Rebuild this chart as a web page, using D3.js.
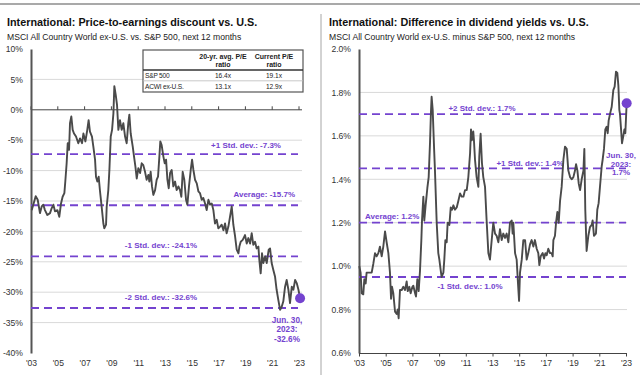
<!DOCTYPE html>
<html>
<head>
<meta charset="utf-8">
<script src="https://cdn.jsdelivr.net/npm/d3@7"></script>
<style>
  body { margin: 0; background: #fff; }
  svg { font-family: "Liberation Sans", Arial, sans-serif; display: block; }
  .tick text { fill: #333; }
</style>
</head>
<body>
<svg id="chart" width="640" height="375"></svg>
<script>
// left panel: P/E discount (%), [decimal year, value]
var peSeries = [
  [2003.05,-16.5],[2003.17,-15.6],[2003.35,-14.2],[2003.50,-14.8],[2003.67,-17.0],[2003.80,-15.9],[2003.92,-15.6],
  [2004.04,-16.5],[2004.22,-17.3],[2004.42,-17.0],[2004.54,-16.2],[2004.67,-15.6],[2004.79,-16.7],[2004.97,-16.5],
  [2005.11,-17.6],[2005.24,-15.4],[2005.36,-14.3],[2005.49,-13.7],[2005.56,-11.8],[2005.66,-8.8],[2005.74,-5.5],
  [2005.84,-6.6],[2005.91,-2.2],[2006.01,-1.1],[2006.11,-3.3],[2006.21,-3.9],[2006.36,-4.4],[2006.53,-5.5],
  [2006.66,-4.7],[2006.81,-5.5],[2006.91,-3.9],[2007.06,-5.2],[2007.20,-3.3],[2007.30,-1.7],[2007.40,-3.6],
  [2007.55,-4.4],[2007.65,-6.0],[2007.78,-8.2],[2007.85,-11.0],[2007.95,-11.8],[2008.05,-11.0],[2008.15,-13.4],
  [2008.27,-15.9],[2008.40,-18.7],[2008.47,-19.5],[2008.60,-18.9],[2008.65,-15.9],[2008.77,-13.2],[2008.85,-9.9],
  [2008.95,-4.4],[2009.05,-3.3],[2009.15,-0.6],[2009.22,3.9],[2009.32,2.5],[2009.42,0.8],[2009.52,-3.3],
  [2009.64,-1.7],[2009.77,-3.3],[2009.89,-2.2],[2010.02,-4.4],[2010.14,-5.5],[2010.26,-2.2],[2010.34,-0.8],
  [2010.44,-3.9],[2010.59,-6.0],[2010.69,-7.7],[2010.79,-9.3],[2010.89,-11.3],[2011.01,-9.6],[2011.14,-10.4],
  [2011.26,-8.8],[2011.38,-9.1],[2011.51,-10.2],[2011.63,-11.5],[2011.76,-10.7],[2011.83,-11.8],[2011.93,-10.2],
  [2012.03,-12.6],[2012.13,-14.0],[2012.26,-13.2],[2012.38,-11.5],[2012.48,-11.0],[2012.58,-7.7],[2012.65,-5.2],
  [2012.75,-5.8],[2012.88,-7.7],[2012.98,-8.8],[2013.08,-8.2],[2013.18,-11.5],[2013.28,-12.9],[2013.38,-10.4],
  [2013.50,-9.9],[2013.62,-12.6],[2013.75,-11.8],[2013.87,-13.2],[2014.00,-12.6],[2014.12,-13.2],[2014.22,-14.3],
  [2014.32,-10.2],[2014.44,-11.5],[2014.57,-14.8],[2014.67,-15.6],[2014.79,-12.6],[2014.92,-9.9],[2015.02,-8.2],
  [2015.12,-9.9],[2015.24,-11.5],[2015.37,-12.1],[2015.49,-13.4],[2015.61,-13.7],[2015.74,-14.8],[2015.86,-14.5],
  [2015.99,-15.4],[2016.11,-16.5],[2016.24,-14.8],[2016.36,-15.6],[2016.49,-15.4],[2016.61,-16.5],[2016.73,-18.7],
  [2016.86,-18.1],[2016.98,-19.5],[2017.11,-19.2],[2017.23,-18.9],[2017.36,-19.8],[2017.48,-18.7],[2017.60,-20.3],
  [2017.73,-19.2],[2017.85,-17.6],[2017.98,-15.9],[2018.10,-18.9],[2018.23,-20.8],[2018.35,-23.0],[2018.48,-23.6],
  [2018.55,-22.5],[2018.65,-21.7],[2018.80,-21.4],[2018.97,-20.6],[2019.10,-22.0],[2019.22,-21.1],[2019.35,-22.0],
  [2019.47,-20.3],[2019.59,-22.2],[2019.72,-21.7],[2019.84,-22.8],[2019.97,-22.5],[2020.04,-24.7],[2020.14,-26.9],
  [2020.24,-23.6],[2020.34,-25.2],[2020.47,-24.1],[2020.59,-25.2],[2020.74,-23.0],[2020.84,-22.8],[2020.96,-25.2],
  [2021.08,-26.3],[2021.21,-27.4],[2021.33,-29.6],[2021.46,-31.3],[2021.59,-32.9],[2021.71,-32.4],[2021.83,-31.5],
  [2021.96,-29.1],[2022.08,-28.0],[2022.21,-29.6],[2022.33,-31.8],[2022.46,-29.1],[2022.58,-29.6],[2022.71,-28.0],
  [2022.83,-28.5],[2022.96,-29.6],[2023.08,-31.0]
];

// right panel: dividend yield difference (%), [decimal year, value]
var dySeries = [
  [2003.02,1.00],[2003.12,0.97],[2003.20,0.875],[2003.32,0.87],[2003.40,0.94],[2003.50,0.92],[2003.57,0.97],
  [2003.70,0.97],[2003.82,0.97],[2003.95,0.97],[2004.07,1.01],[2004.20,1.06],[2004.32,1.045],[2004.45,1.06],
  [2004.57,1.09],[2004.70,1.045],[2004.82,1.09],[2004.95,1.16],[2005.07,1.11],[2005.20,1.06],[2005.32,0.97],
  [2005.40,0.85],[2005.47,0.905],[2005.57,0.875],[2005.70,0.79],[2005.82,0.78],[2005.90,0.80],[2005.97,0.76],
  [2006.07,0.89],[2006.20,0.89],[2006.32,0.905],[2006.45,0.89],[2006.57,0.93],[2006.65,0.885],[2006.77,0.905],
  [2006.87,0.875],[2007.00,0.905],[2007.07,0.91],[2007.20,0.875],[2007.27,0.86],[2007.37,0.94],[2007.47,0.885],
  [2007.57,0.98],[2007.67,1.12],[2007.72,1.21],[2007.82,1.32],[2007.89,1.21],[2007.99,1.28],[2008.12,1.36],
  [2008.22,1.41],[2008.32,1.57],[2008.39,1.71],[2008.44,1.78],[2008.52,1.72],[2008.62,1.55],[2008.69,1.44],
  [2008.82,1.20],[2008.94,1.06],[2009.02,1.03],[2009.12,0.98],[2009.19,0.95],[2009.32,0.97],[2009.39,1.03],
  [2009.47,1.12],[2009.57,1.11],[2009.64,1.20],[2009.77,1.19],[2009.87,1.27],[2009.97,1.26],[2010.07,1.28],
  [2010.19,1.26],[2010.32,1.27],[2010.44,1.30],[2010.57,1.335],[2010.69,1.32],[2010.82,1.32],[2010.94,1.35],
  [2011.07,1.35],[2011.19,1.41],[2011.32,1.52],[2011.39,1.63],[2011.46,1.58],[2011.56,1.62],[2011.61,1.58],
  [2011.69,1.49],[2011.81,1.41],[2011.94,1.365],[2012.01,1.505],[2012.11,1.61],[2012.21,1.475],[2012.31,1.41],
  [2012.44,1.365],[2012.56,1.21],[2012.69,1.06],[2012.81,1.03],[2012.94,1.12],[2013.06,1.20],[2013.19,1.15],
  [2013.31,1.14],[2013.44,1.11],[2013.56,1.17],[2013.69,1.12],[2013.81,1.15],[2013.94,1.13],[2014.06,1.15],
  [2014.19,1.11],[2014.31,1.20],[2014.44,1.21],[2014.51,1.15],[2014.56,1.20],[2014.69,1.06],[2014.81,1.03],
  [2014.91,0.92],[2014.99,0.84],[2015.06,0.97],[2015.19,1.03],[2015.31,1.12],[2015.44,1.12],[2015.56,1.03],
  [2015.68,1.06],[2015.81,1.10],[2015.93,1.12],[2016.06,1.09],[2016.18,1.12],[2016.31,1.08],[2016.43,1.06],
  [2016.51,1.005],[2016.61,1.045],[2016.76,1.06],[2016.86,1.035],[2016.96,1.06],[2017.06,1.05],[2017.18,1.08],
  [2017.31,1.06],[2017.43,1.06],[2017.51,1.045],[2017.56,1.12],[2017.68,1.14],[2017.76,1.20],[2017.86,1.25],
  [2017.96,1.20],[2018.06,1.30],[2018.18,1.365],[2018.31,1.49],[2018.43,1.55],[2018.56,1.54],[2018.68,1.44],
  [2018.81,1.41],[2018.93,1.40],[2019.06,1.41],[2019.18,1.44],[2019.26,1.47],[2019.36,1.44],[2019.46,1.38],
  [2019.56,1.35],[2019.68,1.40],[2019.81,1.44],[2019.88,1.54],[2019.95,1.26],[2020.05,1.07],[2020.18,1.14],
  [2020.30,1.18],[2020.43,1.19],[2020.50,1.21],[2020.60,1.14],[2020.75,1.15],[2020.85,1.26],[2020.95,1.29],
  [2021.05,1.365],[2021.18,1.46],[2021.25,1.49],[2021.35,1.54],[2021.45,1.63],[2021.55,1.642],[2021.63,1.612],
  [2021.70,1.67],[2021.80,1.70],[2021.93,1.734],[2022.05,1.811],[2022.15,1.827],[2022.25,1.896],[2022.35,1.89],
  [2022.43,1.83],[2022.50,1.72],[2022.55,1.70],[2022.63,1.63],[2022.70,1.566],[2022.80,1.60],[2022.88,1.63],
  [2022.95,1.612],[2023.05,1.75]
];

var yearTicks = [2003, 2005, 2007, 2009, 2011, 2013, 2015, 2017, 2019, 2021, 2023];
var peTicks = [10, 5, 0, -5, -10, -15, -20, -25, -30, -35, -40];
var dyTicks = [0.6, 0.8, 1.0, 1.2, 1.4, 1.6, 1.8, 2.0];

var peBandValues = [-7.3, -15.7, -24.1, -32.6];
var peBandLabels = ["+1 Std. dev.: -7.3%", "Average: -15.7%", "-1 Std. dev.: -24.1%", "-2 Std. dev.: -32.6%"];
var dyBandValues = [1.7, 1.45, 1.2, 0.95];
var dyBandLabels = ["+2 Std. dev.: 1.7%", "+1 Std. dev.: 1.4%", "Average: 1.2%", "-1 Std. dev.: 1.0%"];

var peNote = ["Jun. 30,", "2023:", "-32.6%"];
var dyNote = ["Jun. 30,", "2023:", "1.7%"];

var tableHeader = [["20-yr. avg. P/E", "ratio"], ["Current P/E", "ratio"]];
var tableRowNames = ["S&P 500", "ACWI ex-U.S."];
var tableAvgPE = ["16.4x", "13.1x"];
var tableCurPE = ["19.1x", "12.9x"];

var titles = ["International: Price-to-earnings discount vs. U.S.", "International: Difference in dividend yields vs. U.S."];
var subtitles = ["MSCI All Country World ex-U.S. vs. S&P 500, next 12 months", "MSCI All Country World ex-U.S. minus S&P 500, next 12 months"];

var purple = "#7443cf", lineGray = "#4a4a4a", gridGray = "#d9d9d9";

var svg = d3.select("#chart");

// frame
svg.append("line").attr("x1", 0).attr("x2", 640).attr("y1", 4).attr("y2", 4)
    .style("stroke", "#8c8c8c").style("stroke-width", 1.5);
svg.append("line").attr("x1", 321).attr("x2", 321).attr("y1", 14).attr("y2", 375)
    .style("stroke", "#a6a6a6").style("stroke-width", 1);

function drawTitle(x, i) {
    svg.append("text").attr("x", x).attr("y", 26)
        .style("font-size", "10.8px").style("font-weight", "bold").style("fill", "#111")
        .text(titles[i]);
    svg.append("text").attr("x", x).attr("y", 40)
        .style("font-size", "8.6px").style("fill", "#222")
        .text(subtitles[i]);
}
drawTitle(7, 0);
drawTitle(329, 1);

function yearLabel(d) { return "'" + String(d).slice(2); }

// ---------- left panel ----------
var xL = d3.scaleLinear().domain([2003, 2023]).range([31, 299]);
var yL = d3.scaleLinear().domain([-40, 10]).range([353, 49]);

var left = svg.append("g");

left.selectAll(".grid").data(peTicks.filter(function(d) { return d !== 0 && d !== -40 && d !== 10; }))
    .enter().append("line")
    .attr("x1", xL(2003)).attr("x2", 302)
    .attr("y1", function(d) { return yL(d); }).attr("y2", function(d) { return yL(d); })
    .style("stroke", gridGray).style("stroke-width", 1);

// zero line with upward ticks
left.append("line").attr("x1", xL(2003)).attr("x2", 302).attr("y1", yL(0)).attr("y2", yL(0))
    .style("stroke", "#444").style("stroke-width", 1);
left.selectAll(".zt").data(yearTicks).enter().append("line")
    .attr("x1", function(d) { return xL(d); }).attr("x2", function(d) { return xL(d); })
    .attr("y1", yL(0)).attr("y2", yL(0) - 3.5)
    .style("stroke", "#444").style("stroke-width", 1);

var yAxisL = left.append("g")
    .attr("transform", "translate(" + xL(2003) + ",0)")
    .call(d3.axisLeft(yL).tickValues(peTicks).tickSize(0).tickPadding(8)
        .tickFormat(function(d) { return d + "%"; }));
yAxisL.select(".domain").style("stroke", "#555").style("stroke-width", 2);
yAxisL.selectAll("text").style("font-size", "8.6px").style("font-family", "Liberation Sans, Arial");

var xAxisL = left.append("g")
    .attr("transform", "translate(0," + yL(-40) + ")")
    .call(d3.axisBottom(xL).tickValues(yearTicks).tickSize(0).tickPadding(7).tickFormat(yearLabel));
xAxisL.select(".domain").remove();
xAxisL.selectAll("text").style("font-size", "8.6px").style("font-family", "Liberation Sans, Arial");

// band lines
left.selectAll(".band").data(peBandValues).enter().append("line")
    .attr("x1", xL(2003)).attr("x2", 298)
    .attr("y1", function(d) { return yL(d); }).attr("y2", function(d) { return yL(d); })
    .style("stroke", purple).style("stroke-width", 1.8).style("stroke-dasharray", "8,5");

var peLabelPos = [[246, "middle", 6], [295, "end", 8], [161, "middle", 8], [161, "middle", 8]];
left.selectAll(".blab").data(peBandLabels).enter().append("text")
    .attr("x", function(d, i) { return peLabelPos[i][0]; })
    .attr("y", function(d, i) { return yL(peBandValues[i]) - peLabelPos[i][2]; })
    .attr("text-anchor", function(d, i) { return peLabelPos[i][1]; })
    .style("font-size", "8px").style("font-weight", "bold").style("fill", purple)
    .text(function(d) { return d; });

var peLine = d3.line().x(function(d) { return xL(d[0]); }).y(function(d) { return yL(d[1]); });
left.append("path").datum(peSeries).attr("d", peLine)
    .style("fill", "none").style("stroke", lineGray).style("stroke-width", 1.9)
    .style("stroke-linejoin", "round");

var peLast = peSeries[peSeries.length - 1];
left.append("circle").attr("cx", xL(peLast[0])).attr("cy", yL(peLast[1])).attr("r", 5)
    .style("fill", purple);

left.selectAll(".note").data(peNote).enter().append("text")
    .attr("x", 287).attr("y", function(d, i) { return 323 + i * 9.3; })
    .attr("text-anchor", "middle")
    .style("font-size", "8.2px").style("font-weight", "bold").style("fill", purple)
    .text(function(d) { return d; });

// table
var tbl = left.append("g");
tbl.append("rect").attr("x", 143).attr("y", 50).attr("width", 160).attr("height", 42)
    .style("fill", "#fff").style("stroke", "#555").style("stroke-width", 1.2);
tbl.append("line").attr("x1", 143).attr("x2", 303).attr("y1", 70).attr("y2", 70)
    .style("stroke", "#333").style("stroke-width", 1.4);
tbl.append("line").attr("x1", 143).attr("x2", 303).attr("y1", 80.8).attr("y2", 80.8)
    .style("stroke", "#bbb").style("stroke-width", 0.8);
var colX = [223, 274];
tableHeader.forEach(function(h, c) {
    h.forEach(function(t, r) {
        tbl.append("text").attr("x", colX[c]).attr("y", 58.5 + r * 8.5).attr("text-anchor", "middle")
            .style("font-size", "7px").style("font-weight", "bold").style("fill", "#222").text(t);
    });
});
tableRowNames.forEach(function(n, r) {
    var y = 77.8 + r * 11;
    tbl.append("text").attr("x", 145).attr("y", y).style("font-size", "6.6px").style("fill", "#222")
        .style("letter-spacing", "-0.2px").text(n);
    tbl.append("text").attr("x", colX[0]).attr("y", y).attr("text-anchor", "middle")
        .style("font-size", "6.6px").style("fill", "#222").text(tableAvgPE[r]);
    tbl.append("text").attr("x", colX[1]).attr("y", y).attr("text-anchor", "middle")
        .style("font-size", "6.6px").style("fill", "#222").text(tableCurPE[r]);
});

// ---------- right panel ----------
var xR = d3.scaleLinear().domain([2003, 2023]).range([359, 626]);
var yR = d3.scaleLinear().domain([0.6, 2.0]).range([353, 49]);

var right = svg.append("g");

right.selectAll(".grid").data(dyTicks.filter(function(d) { return d > 0.7 && d < 1.9; }))
    .enter().append("line")
    .attr("x1", xR(2003)).attr("x2", 627)
    .attr("y1", function(d) { return yR(d); }).attr("y2", function(d) { return yR(d); })
    .style("stroke", gridGray).style("stroke-width", 1);

var yAxisR = right.append("g")
    .attr("transform", "translate(" + xR(2003) + ",0)")
    .call(d3.axisLeft(yR).tickValues(dyTicks).tickSize(0).tickPadding(8)
        .tickFormat(function(d) { return d3.format(".1f")(d) + "%"; }));
yAxisR.select(".domain").style("stroke", "#555").style("stroke-width", 2);
yAxisR.selectAll("text").style("font-size", "8.6px").style("font-family", "Liberation Sans, Arial");

var xAxisR = right.append("g")
    .attr("transform", "translate(0," + yR(0.6) + ")")
    .call(d3.axisBottom(xR).tickValues(yearTicks).tickSize(3.5).tickSizeOuter(0).tickPadding(3.5).tickFormat(yearLabel));
xAxisR.select(".domain").style("stroke", "#444");
xAxisR.selectAll("line").style("stroke", "#444");
xAxisR.selectAll("text").style("font-size", "8.6px").style("font-family", "Liberation Sans, Arial");

right.selectAll(".band").data(dyBandValues).enter().append("line")
    .attr("x1", xR(2003)).attr("x2", 626)
    .attr("y1", function(d) { return yR(d); }).attr("y2", function(d) { return yR(d); })
    .style("stroke", purple).style("stroke-width", 1.8).style("stroke-dasharray", "8,5");

var dyLabelPos = [[482, "middle", -3], [530, "middle", -2.5], [365, "start", -4], [470, "middle", 12]];
right.selectAll(".blab").data(dyBandLabels).enter().append("text")
    .attr("x", function(d, i) { return dyLabelPos[i][0]; })
    .attr("y", function(d, i) { return yR(dyBandValues[i]) + dyLabelPos[i][2]; })
    .attr("text-anchor", function(d, i) { return dyLabelPos[i][1]; })
    .style("font-size", "8px").style("font-weight", "bold").style("fill", purple)
    .text(function(d) { return d; });

var dyLine = d3.line().x(function(d) { return xR(d[0]); }).y(function(d) { return yR(d[1]); });
right.append("path").datum(dySeries).attr("d", dyLine)
    .style("fill", "none").style("stroke", lineGray).style("stroke-width", 1.9)
    .style("stroke-linejoin", "round");

var dyLast = dySeries[dySeries.length - 1];
right.append("circle").attr("cx", xR(dyLast[0])).attr("cy", yR(dyLast[1])).attr("r", 5)
    .style("fill", purple);

right.selectAll(".note").data(dyNote).enter().append("text")
    .attr("x", 621).attr("y", function(d, i) { return 158 + i * 8.7; })
    .attr("text-anchor", "middle")
    .style("font-size", "8px").style("font-weight", "bold").style("fill", purple)
    .text(function(d) { return d; });
</script>
</body>
</html>
